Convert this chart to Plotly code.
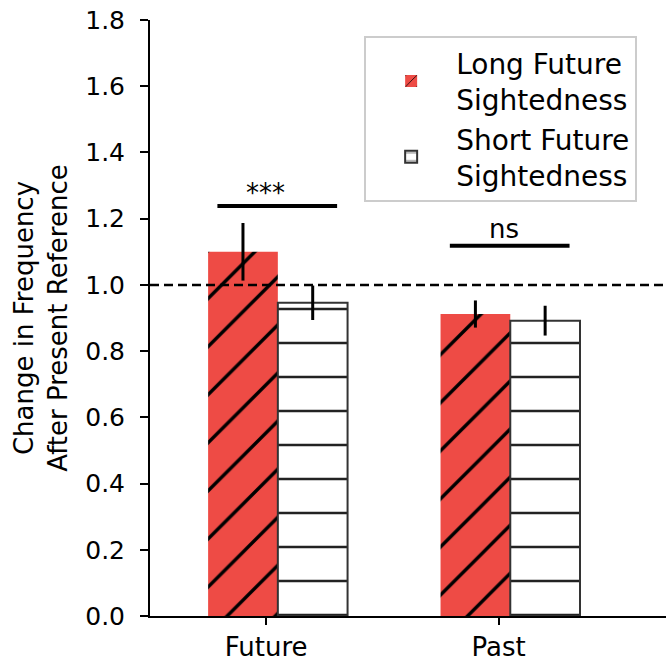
import plotly.graph_objects as go

categories = ["Future", "Past"]
cat_pos = [0, 1]
long_vals = [1.10, 0.912]
long_err = [0.087, 0.041]
short_vals = [0.946, 0.892]
short_err = [0.052, 0.045]
sig_labels = ["***", "ns"]
sig_heights = [1.238, 1.118]
ref_value = 1.0
y_ticks = [0.0, 0.2, 0.4, 0.6, 0.8, 1.0, 1.2, 1.4, 1.6, 1.8]

RED = "#EE4B45"
DARK = "#222222"
FONT = "DejaVu Sans"

long_x = [p - 0.1 for p in cat_pos]
short_x = [p + 0.2 for p in cat_pos]

fig = go.Figure()
fig.add_trace(go.Bar(
    x=long_x, y=long_vals, width=0.3, name="Long Future<br>Sightedness",
    marker=dict(color=RED, line=dict(width=0),
                pattern=dict(shape="/", fgcolor="#000000", bgcolor=RED, size=34,
                             solidity=0.1, fgopacity=1, fillmode="replace")),
    error_y=dict(type="data", array=long_err, color="black", thickness=3, width=0),
))
fig.add_trace(go.Bar(
    x=short_x, y=short_vals, width=0.3, name="Short Future<br>Sightedness",
    marker=dict(color="white", line=dict(width=2, color="#333333"),
                pattern=dict(shape="-", fgcolor=DARK, bgcolor="white", size=34,
                             solidity=0.08, fgopacity=1, fillmode="replace")),
    error_y=dict(type="data", array=short_err, color="black", thickness=3, width=0),
))

# significance bars
text_dx = [-0.05, -0.025]
text_shift = [-4, 0]
for i, (lab, h) in enumerate(zip(sig_labels, sig_heights)):
    x0 = long_x[i] - 0.11
    x1 = short_x[i] + 0.105
    fig.add_trace(go.Scatter(x=[x0, x1], y=[h, h], mode="lines",
                             line=dict(color="black", width=4), showlegend=False,
                             hoverinfo="skip"))
    fig.add_annotation(x=(x0 + x1) / 2 + text_dx[i], y=h, yshift=text_shift[i],
                       text=lab, showarrow=False, yanchor="bottom",
                       font=dict(family=FONT, size=26, color="black"))

fig.add_shape(type="line", xref="paper", x0=0, x1=1, yref="y", y0=ref_value, y1=ref_value,
              line=dict(color="black", width=2.5, dash="9px,5px"))

fig.update_layout(
    width=666, height=661,
    margin=dict(l=150, r=0, t=20, b=45),
    paper_bgcolor="white", plot_bgcolor="white",
    font=dict(family=FONT, size=25, color="black"),
    barmode="overlay",
    showlegend=True,
    legend=dict(x=0.415, y=0.973, xanchor="left", yanchor="top",
                bgcolor="white", bordercolor="#cccccc", borderwidth=2,
                font=dict(family=FONT, size=28), tracegroupgap=0,
                itemwidth=80),
    xaxis=dict(range=[-0.5, 1.72], tickmode="array", tickvals=cat_pos, ticktext=categories,
               showline=True, linecolor="black", linewidth=2, ticks="outside",
               ticklen=7, tickwidth=2, tickcolor="black", showgrid=False, zeroline=False,
               tickfont=dict(size=26)),
    yaxis=dict(range=[0, 1.8], tickmode="array", tickvals=y_ticks,
               ticktext=[f"{v:.1f}" for v in y_ticks],
               showline=True, linecolor="black", linewidth=2, ticks="outside",
               ticklen=8, tickwidth=2, tickcolor="black", showgrid=False, zeroline=False,
               tickfont=dict(size=25), ticklabelstandoff=10,
               title=dict(text="Change in Frequency<br>After Present Reference",
                          font=dict(size=26), standoff=10)),
)

fig.write_html("out.html", config={"displayModeBar": False},
               post_script="document.body.style.margin='0';document.body.style.overflow='hidden';")
